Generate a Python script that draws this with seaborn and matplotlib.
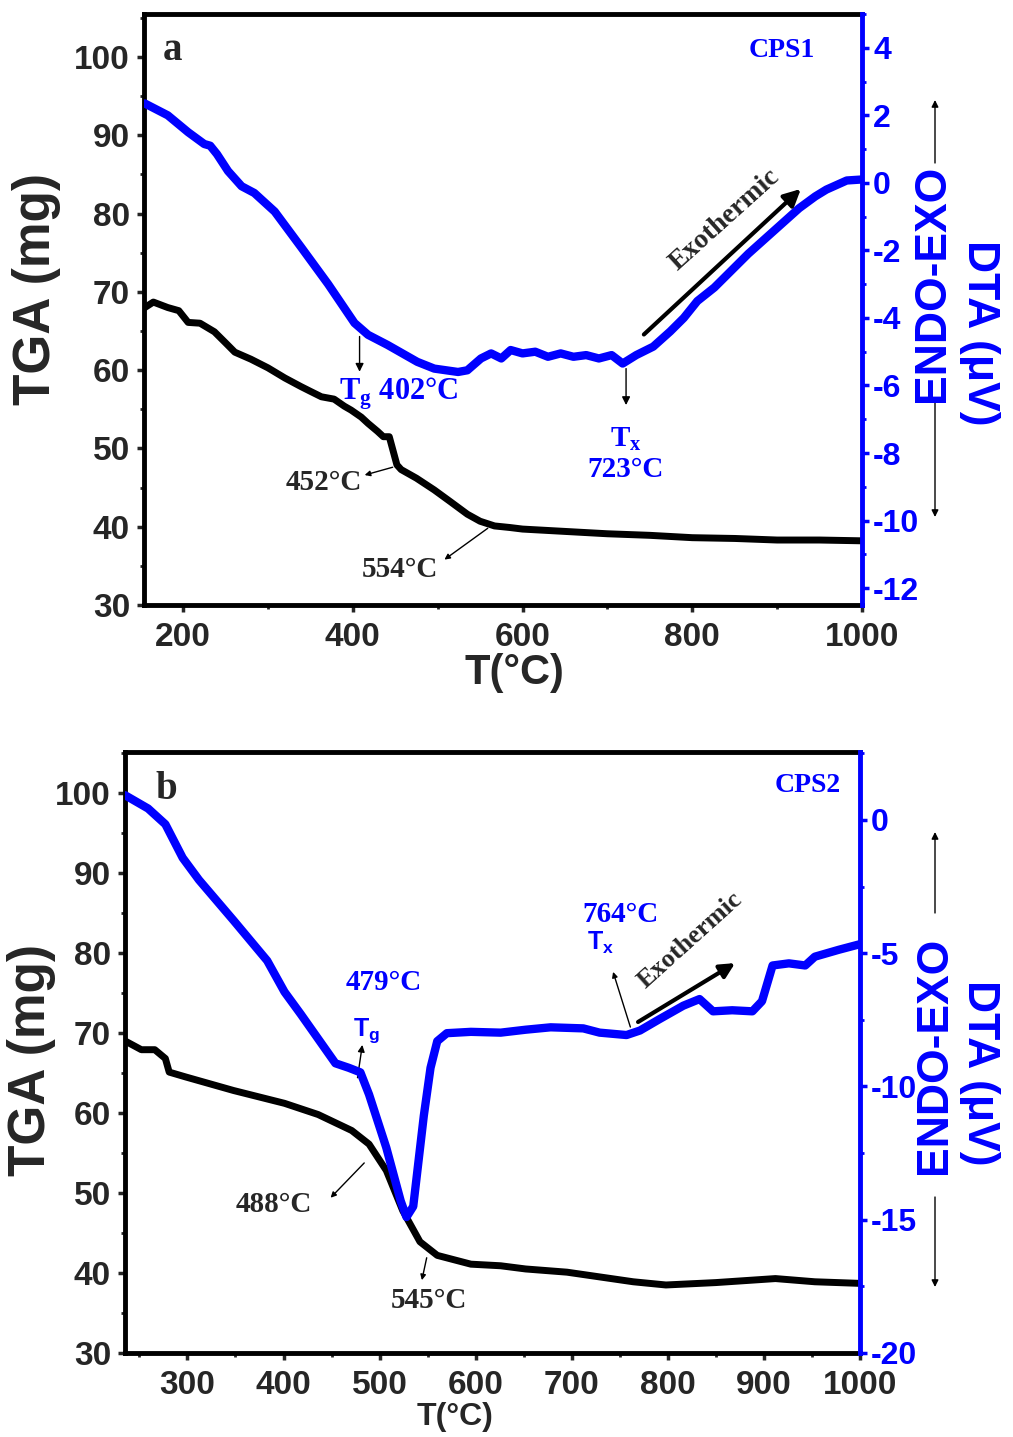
import matplotlib
matplotlib.use("Agg")
import matplotlib.pyplot as plt
import seaborn as sns
import pandas as pd
from matplotlib.ticker import MultipleLocator

sns.set_style("ticks")
plt.rcParams["font.family"] = ["Liberation Sans", "DejaVu Sans"]
plt.rcParams["font.weight"] = "bold"
plt.rcParams["axes.labelweight"] = "bold"
plt.rcParams["axes.unicode_minus"] = False

# ---------------- data ----------------
# Panel a (CPS1)
tga_a_T = [155, 165, 182, 195, 206, 220, 237, 250, 261, 280, 300, 320, 339, 350, 363, 378,
           390, 398, 410, 418, 429, 436, 443, 448, 452, 457, 475, 496, 515, 535, 550, 567,
           585, 600, 650, 700, 750, 800, 850, 900, 950, 1000]
tga_a_v = [68.0, 68.7, 68.0, 67.6, 66.1, 66.0, 64.9, 63.5, 62.3, 61.4, 60.3, 59.0, 57.9, 57.3,
           56.6, 56.3, 55.4, 54.9, 54.0, 53.2, 52.2, 51.5, 51.5, 49.5, 47.9, 47.3, 46.2, 44.7,
           43.2, 41.6, 40.7, 40.1, 39.9, 39.7, 39.4, 39.1, 38.9, 38.6, 38.5, 38.3, 38.3, 38.2]
dta_a_T = [155, 182, 206, 225, 232, 240, 253, 269, 284, 308, 339, 371, 402, 418, 441, 476,
           496, 524, 535, 551, 563, 575, 586, 600, 615, 630, 645, 660, 675, 690, 705, 718,
           734, 754, 774, 790, 806, 826, 846, 866, 886, 906, 926, 945, 958, 982, 1000]
dta_a_v = [2.35, 2.0, 1.5, 1.15, 1.1, 0.85, 0.35, -0.1, -0.3, -0.85, -1.9, -3.0, -4.15, -4.5,
           -4.8, -5.3, -5.5, -5.6, -5.55, -5.2, -5.05, -5.2, -4.95, -5.05, -5.0, -5.15, -5.05,
           -5.15, -5.1, -5.2, -5.1, -5.35, -5.1, -4.85, -4.4, -4.0, -3.5, -3.1, -2.6, -2.1,
           -1.65, -1.2, -0.75, -0.4, -0.2, 0.07, 0.1]

# Panel b (CPS2)
tga_b_T = [235, 252, 266, 277, 281, 298, 348, 401, 436, 471, 489, 507, 524, 542, 560, 595,
           626, 652, 695, 764, 798, 850, 912, 953, 1000]
tga_b_v = [69.0, 67.9, 67.9, 66.8, 65.1, 64.5, 62.8, 61.2, 59.8, 57.8, 56.1, 52.8, 47.8, 43.9,
           42.2, 41.1, 40.9, 40.5, 40.1, 38.9, 38.5, 38.8, 39.3, 38.9, 38.7]
dta_b_T = [235, 259, 277, 295, 312, 348, 383, 401, 418, 454, 468, 480, 489, 507, 522, 528,
           535, 546, 553, 560, 570, 595, 626, 652, 678, 712, 729, 757, 771, 791, 816, 833,
           847, 867, 888, 898, 909, 926, 943, 953, 978, 1000]
dta_b_v = [0.93, 0.43, -0.16, -1.42, -2.25, -3.77, -5.28, -6.45, -7.29, -9.13, -9.3, -9.47,
           -10.3, -12.3, -14.3, -14.9, -14.5, -11.1, -9.3, -8.3, -8.0, -7.95, -7.98, -7.87,
           -7.78, -7.82, -7.98, -8.07, -7.9, -7.48, -6.97, -6.72, -7.18, -7.14, -7.18, -6.8,
           -5.46, -5.38, -5.46, -5.13, -4.87, -4.66]

W, H = 1013, 1437
fig = plt.figure(figsize=(W / 100, H / 100), dpi=100)

SERIF = ["Liberation Serif", "DejaVu Serif"]
BLUE = "#0000ff"
ANN = 21


def fpos(x, y):
    return (x / W, 1 - y / H)


def panel(box, T1, v1, T2, v2, xlim, ylim1, ylim2, xmaj, xmin, ymaj2, ymin2):
    l, t, r, b = box
    ax = fig.add_axes([l / W, 1 - b / H, (r - l) / W, (b - t) / H])
    ax2 = ax.twinx()
    sns.lineplot(x=T1, y=v1, ax=ax, color="black", lw=5.0, estimator=None, sort=False)
    sns.lineplot(x=T2, y=v2, ax=ax2, color=BLUE, lw=6.0, estimator=None, sort=False)
    ax.set_xlim(*xlim)
    ax.set_ylim(*ylim1)
    ax2.set_ylim(*ylim2)
    ax.set_xlabel("")
    ax.set_ylabel("")
    ax2.set_ylabel("")
    ax.xaxis.set_major_locator(MultipleLocator(xmaj))
    ax.xaxis.set_minor_locator(MultipleLocator(xmin))
    ax.yaxis.set_major_locator(MultipleLocator(10))
    ax.yaxis.set_minor_locator(MultipleLocator(5))
    ax2.yaxis.set_major_locator(MultipleLocator(ymaj2))
    ax2.yaxis.set_minor_locator(MultipleLocator(ymin2))
    for s in ["left", "bottom", "top"]:
        ax.spines[s].set_linewidth(3.5)
        ax.spines[s].set_color("black")
        ax2.spines[s].set_visible(False)
    ax.spines["right"].set_visible(False)
    ax2.spines["right"].set_linewidth(3.5)
    ax2.spines["right"].set_color(BLUE)
    ax.tick_params(which="major", direction="out", length=5, width=2.5, labelsize=24, pad=5)
    ax.tick_params(axis="x", which="major", pad=7)
    ax.tick_params(which="minor", direction="out", length=3, width=2)
    ax2.tick_params(axis="y", which="major", direction="out", length=5, width=2.5,
                    labelsize=23, colors=BLUE, pad=3)
    ax2.tick_params(axis="y", which="minor", direction="out", length=3, width=2, colors=BLUE)
    for lab in ax.get_xticklabels() + ax.get_yticklabels() + ax2.get_yticklabels():
        lab.set_fontweight("bold")
    return ax, ax2


def arrow(a, tip, start, lw=1.0, ms=12, color="black", coords="data"):
    a.annotate("", xy=tip, xytext=start, xycoords=coords, textcoords=coords,
               annotation_clip=False,
               arrowprops=dict(arrowstyle="-|>", color=color, lw=lw, mutation_scale=ms,
                               shrinkA=0, shrinkB=0))


# ---------------- panel a ----------------
axa, axa2 = panel((144, 14, 862, 605), tga_a_T, tga_a_v, dta_a_T, dta_a_v,
                  (154, 1000), (30, 105.5), (-12.5, 5.0), 200, 100, 2, 1)

axa.text(187, 100.9, "a", fontsize=28, fontweight="bold", family=SERIF, ha="center", va="center")
axa2.text(905, 3.93, "CPS1", fontsize=20, fontweight="bold", family=SERIF, color=BLUE,
          ha="center", va="center")
arrow(axa, (408, 59.8), (408, 64.3))
axa.text(384, 57.0, r"T$_\mathregular{g}$ 402°C", fontsize=22, fontweight="bold", family=SERIF,
         color=BLUE, ha="left", va="center")
arrow(axa, (414, 46.6), (447, 47.6), ms=8)
axa.text(366, 45.6, "452°C", fontsize=ANN, fontweight="bold", family=SERIF, ha="center", va="center")
arrow(axa, (508, 35.8), (559, 39.8), ms=8)
axa.text(456, 34.5, "554°C", fontsize=ANN, fontweight="bold", family=SERIF, ha="center", va="center")
arrow(axa2, (722, -6.58), (722, -5.5))
axa2.text(722, -7.6, r"T$_\mathregular{x}$", fontsize=ANN, fontweight="bold", family=SERIF,
          color=BLUE, ha="center", va="center")
axa2.text(722, -8.5, "723°C", fontsize=ANN, fontweight="bold", family=SERIF, color=BLUE,
          ha="center", va="center")
arrow(axa2, (928, -0.18), (743, -4.49), lw=3, ms=25)
axa2.text(838, -1.1, "Exothermic", fontsize=20, fontweight="bold", family=SERIF,
          rotation=42, rotation_mode="anchor", ha="center", va="center")

# ---------------- panel b ----------------
axb, axb2 = panel((125, 752, 860, 1353), tga_b_T, tga_b_v, dta_b_T, dta_b_v,
                  (235, 1000), (30, 105.1), (-20, 2.55), 100, 50, 5, 2.5)

axb.text(278, 100.4, "b", fontsize=28, fontweight="bold", family=SERIF, ha="center", va="center")
axb2.text(946, 1.31, "CPS2", fontsize=20, fontweight="bold", family=SERIF, color=BLUE,
          ha="center", va="center")
axb.text(504, 76.25, "479°C", fontsize=ANN, fontweight="bold", family=SERIF, color=BLUE,
         ha="center", va="center")
axb.text(486, 70.3, r"T$_\mathregular{g}$", fontsize=18, fontweight="bold", color=BLUE,
         ha="center", va="center")
arrow(axb, (482, 68.5), (477, 64.4), ms=10)
arrow(axb, (449, 49.4), (484, 53.75), ms=8)
axb.text(390, 48.5, "488°C", fontsize=ANN, fontweight="bold", family=SERIF, ha="center", va="center")
arrow(axb, (544, 39.1), (549, 41.9), ms=8)
axb.text(551, 36.6, "545°C", fontsize=ANN, fontweight="bold", family=SERIF, ha="center", va="center")
axb2.text(751, -3.56, "764°C", fontsize=ANN, fontweight="bold", family=SERIF, color=BLUE,
          ha="center", va="center")
axb2.text(730, -4.6, r"T$_\mathregular{x}$", fontsize=18, fontweight="bold", color=BLUE,
          ha="center", va="center")
arrow(axb2, (743, -5.7), (761, -7.77), ms=8)
arrow(axb2, (870, -5.37), (769, -7.58), lw=3, ms=22)
axb2.text(823, -4.5, "Exothermic", fontsize=19, fontweight="bold", family=SERIF,
          rotation=42, rotation_mode="anchor", ha="center", va="center")

# ---------------- axis titles ----------------
for (x, y) in [(37, 289), (31, 1060)]:
    fig.text(*fpos(x, y), "TGA (mg)", fontsize=37, fontweight="bold", rotation=90,
             ha="center", va="center")
fig.text(*fpos(514, 673), "T(°C)", fontsize=30, fontweight="bold", ha="center", va="center")
fig.text(*fpos(455, 1417), "T(°C)", fontsize=23, fontweight="bold", ha="center", va="center")

for (ex, ey, dy, a_up, a_top, a_bot, a_dn) in [
        (932, 283, 333, 100, 163, 403, 517),
        (934, 1055, 1073, 832, 913, 1197, 1287)]:
    fig.text(*fpos(ex, ey), "ENDO-EXO", fontsize=32, fontweight="bold", color=BLUE,
             rotation=90, ha="center", va="center")
    fig.text(*fpos(979, dy), "DTA (μV)", fontsize=32, fontweight="bold", color=BLUE,
             rotation=270, ha="center", va="center")
    arrow(axb2, fpos(935, a_up), fpos(935, a_top), lw=1.0, ms=10, coords="figure fraction")
    arrow(axb2, fpos(935, a_dn), fpos(935, a_bot), lw=1.0, ms=10, coords="figure fraction")

fig.savefig("out.png", dpi=100)
